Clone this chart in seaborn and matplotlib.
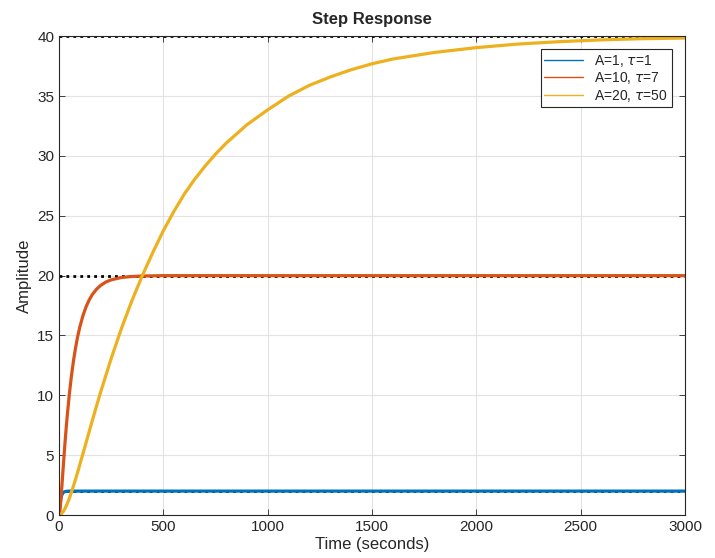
import pandas as pd
import seaborn as sns
import matplotlib.pyplot as plt
from matplotlib.lines import Line2D

# values
blue_t = [0, 1, 2, 4, 6, 8, 10, 13, 16, 20, 25, 30, 40, 50, 3000]
blue_y = [0, 0.10, 0.29, 0.69, 1.01, 1.26, 1.44, 1.64, 1.76, 1.87, 1.93,
          1.97, 1.99, 2.0, 2.0]

red_t = [0, 2, 4, 6, 8, 10, 14, 18, 22, 26, 30, 35, 40, 50, 60, 70, 80, 90,
         100, 115, 130, 145, 160, 180, 200, 225, 250, 300, 350, 400, 500, 3000]
red_y = [0, 0.09, 0.31, 0.63, 1.03, 1.47, 2.43, 3.43, 4.42, 5.39, 6.30,
         7.38, 8.38, 10.16, 11.67, 12.95, 14.03, 14.95, 15.72, 16.67, 17.41,
         17.98, 18.43, 18.87, 19.19, 19.47, 19.65, 19.85, 19.93, 19.97,
         20.0, 20.0]

yel_t = [0, 10, 20, 30, 40, 50, 60, 75, 90, 110, 130, 150, 175, 200, 250,
         300, 350, 400, 450, 500, 550, 600, 650, 700, 750, 800, 900, 1000,
         1100, 1200, 1300, 1400, 1500, 1600, 1800, 2000, 2200, 2400, 2600,
         2800, 3000]
yel_y = [0, 0.07, 0.28, 0.58, 0.97, 1.42, 1.92, 2.74, 3.61, 4.83, 6.06,
         7.30, 8.82, 10.29, 13.07, 15.62, 17.93, 20.03, 21.95, 23.75, 25.35,
         26.8, 28.05, 29.15, 30.15, 31.05, 32.6, 33.85, 35.0, 35.9, 36.6,
         37.2, 37.7, 38.1, 38.65, 39.05, 39.35, 39.55, 39.7, 39.8, 39.85]

labels = ['A=1, $\\tau$=1', 'A=10, $\\tau$=7', 'A=20, $\\tau$=50']
finals = [2, 20, 40]
colors = ['#0072BD', '#D95319', '#EDB120']

df = pd.concat([
    pd.DataFrame({'t': blue_t, 'y': blue_y, 'sys': labels[0]}),
    pd.DataFrame({'t': red_t, 'y': red_y, 'sys': labels[1]}),
    pd.DataFrame({'t': yel_t, 'y': yel_y, 'sys': labels[2]}),
])

sns.set_theme(style='whitegrid')
plt.rcParams['font.family'] = ['Liberation Sans', 'DejaVu Sans']

fig = plt.figure(figsize=(7.15, 5.58), dpi=100)
ax = fig.add_axes([0.0825, 0.077, 0.8755, 0.858])

# steady-state lines
for f in finals:
    ax.axhline(f, color='black', linestyle=(0, (1, 1.5)), linewidth=2, zorder=1)

sns.lineplot(data=df, x='t', y='y', hue='sys', palette=colors, linewidth=2.3,
             sort=False, estimator=None, ax=ax, legend=False, zorder=2)

ax.set_xlim(0, 3000)
ax.set_ylim(0, 40)
ax.set_xticks(range(0, 3001, 500))
ax.set_yticks(range(0, 41, 5))
ax.grid(True, color='#e3e3e3', linewidth=0.8)
for s in ax.spines.values():
    s.set_color('#262626')
    s.set_linewidth(0.8)
ax.tick_params(direction='in', length=4, width=0.6, colors='#262626',
               labelsize=11, top=True, right=True, bottom=True, left=True)
ax.set_title('Step Response', fontsize=12, fontweight='bold', pad=9)
ax.set_xlabel('Time (seconds)', fontsize=12, labelpad=2)
ax.set_ylabel('Amplitude', fontsize=12, labelpad=4)

handles = [Line2D([0], [0], color=c, linewidth=1) for c in colors]
leg = ax.legend(handles, labels, loc='upper right', fontsize=10,
                frameon=True, fancybox=False, edgecolor='#262626',
                framealpha=1, borderaxespad=0.95, handlelength=2.8,
                borderpad=0.25, labelspacing=0.1)
leg.get_frame().set_linewidth(0.8)

fig.savefig('out.png', dpi=100)
